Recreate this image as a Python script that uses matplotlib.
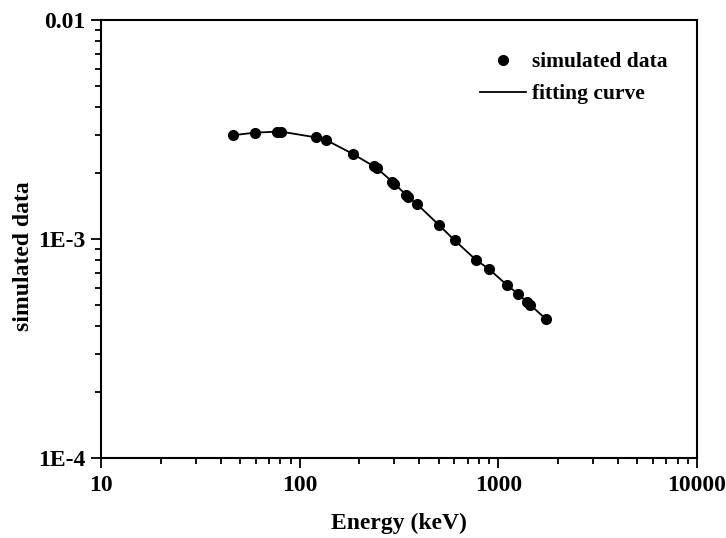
import matplotlib.pyplot as plt
from matplotlib.ticker import LogLocator, FixedLocator, FixedFormatter, NullFormatter

plt.rcParams['font.family'] = ['Liberation Serif', 'DejaVu Serif']
plt.rcParams['font.weight'] = 'bold'

# gamma energies (keV) and simulated efficiency values
energy = [46.4, 59.7, 76.5, 81.0, 121.1, 136.0, 184.5, 236.0, 244.0, 292.0,
          300.0, 343.0, 352.0, 389.0, 504.0, 603.0, 772.0, 898.0, 1101.0,
          1251.0, 1400.0, 1445.0, 1730.0]
simulated = [0.00298, 0.00306, 0.00309, 0.00309, 0.00291, 0.00283, 0.00245,
             0.00215, 0.00211, 0.00183, 0.00179, 0.00159, 0.00155, 0.001445,
             0.001155, 0.000986, 0.000802, 0.000729, 0.000618, 0.000563,
             0.000513, 0.000501, 0.000432]

fig = plt.figure(figsize=(7.26, 5.38), dpi=100)
ax = fig.add_axes([101 / 726, 1 - 458 / 538, (697 - 101) / 726, (458 - 20) / 538])

ax.plot(energy, simulated, '-', color='black', lw=1.3, label='fitting curve', zorder=2)
ax.plot(energy, simulated, 'o', color='black', ms=7, label='simulated data', zorder=3)

ax.set_xscale('log')
ax.set_yscale('log')
ax.set_xlim(10, 10000)
ax.set_ylim(1e-4, 1e-2)

ax.yaxis.set_major_locator(FixedLocator([1e-4, 1e-3, 1e-2]))
ax.yaxis.set_major_formatter(FixedFormatter(['1E-4', '1E-3', '0.01']))
ax.yaxis.set_minor_locator(LogLocator(base=10, subs=range(2, 10)))
ax.yaxis.set_minor_formatter(NullFormatter())
ax.xaxis.set_major_locator(FixedLocator([10, 100, 1000, 10000]))
ax.xaxis.set_major_formatter(FixedFormatter(['10', '100', '1000', '10000']))
ax.xaxis.set_minor_locator(LogLocator(base=10, subs=range(2, 10)))
ax.xaxis.set_minor_formatter(NullFormatter())

# Origin-style outward ticks on left and bottom only
ax.tick_params(which='both', direction='out', top=False, right=False, width=1.3)
ax.tick_params(which='major', length=7, labelsize=17)
ax.tick_params(axis='x', which='major', pad=5)
ax.tick_params(axis='y', which='major', pad=4)
ax.tick_params(which='minor', length=4)
for s in ax.spines.values():
    s.set_linewidth(1.5)
for lbl in ax.get_xticklabels() + ax.get_yticklabels():
    lbl.set_fontweight('bold')

ax.set_xlabel('Energy (keV)', fontsize=17, fontweight='bold', labelpad=12)
ax.set_ylabel('simulated data', fontsize=17, fontweight='bold')
ax.yaxis.set_label_coords(-0.112, 0.461)

handles, labels = ax.get_legend_handles_labels()
ax.legend(handles[::-1], labels[::-1], loc='upper left', frameon=False,
          bbox_to_anchor=(0.636, 0.926), borderaxespad=0, borderpad=0,
          handlelength=2.15, handletextpad=0.28, labelspacing=0.54,
          prop={'weight': 'bold', 'size': 15.5})

fig.savefig('out.png', dpi=100)
